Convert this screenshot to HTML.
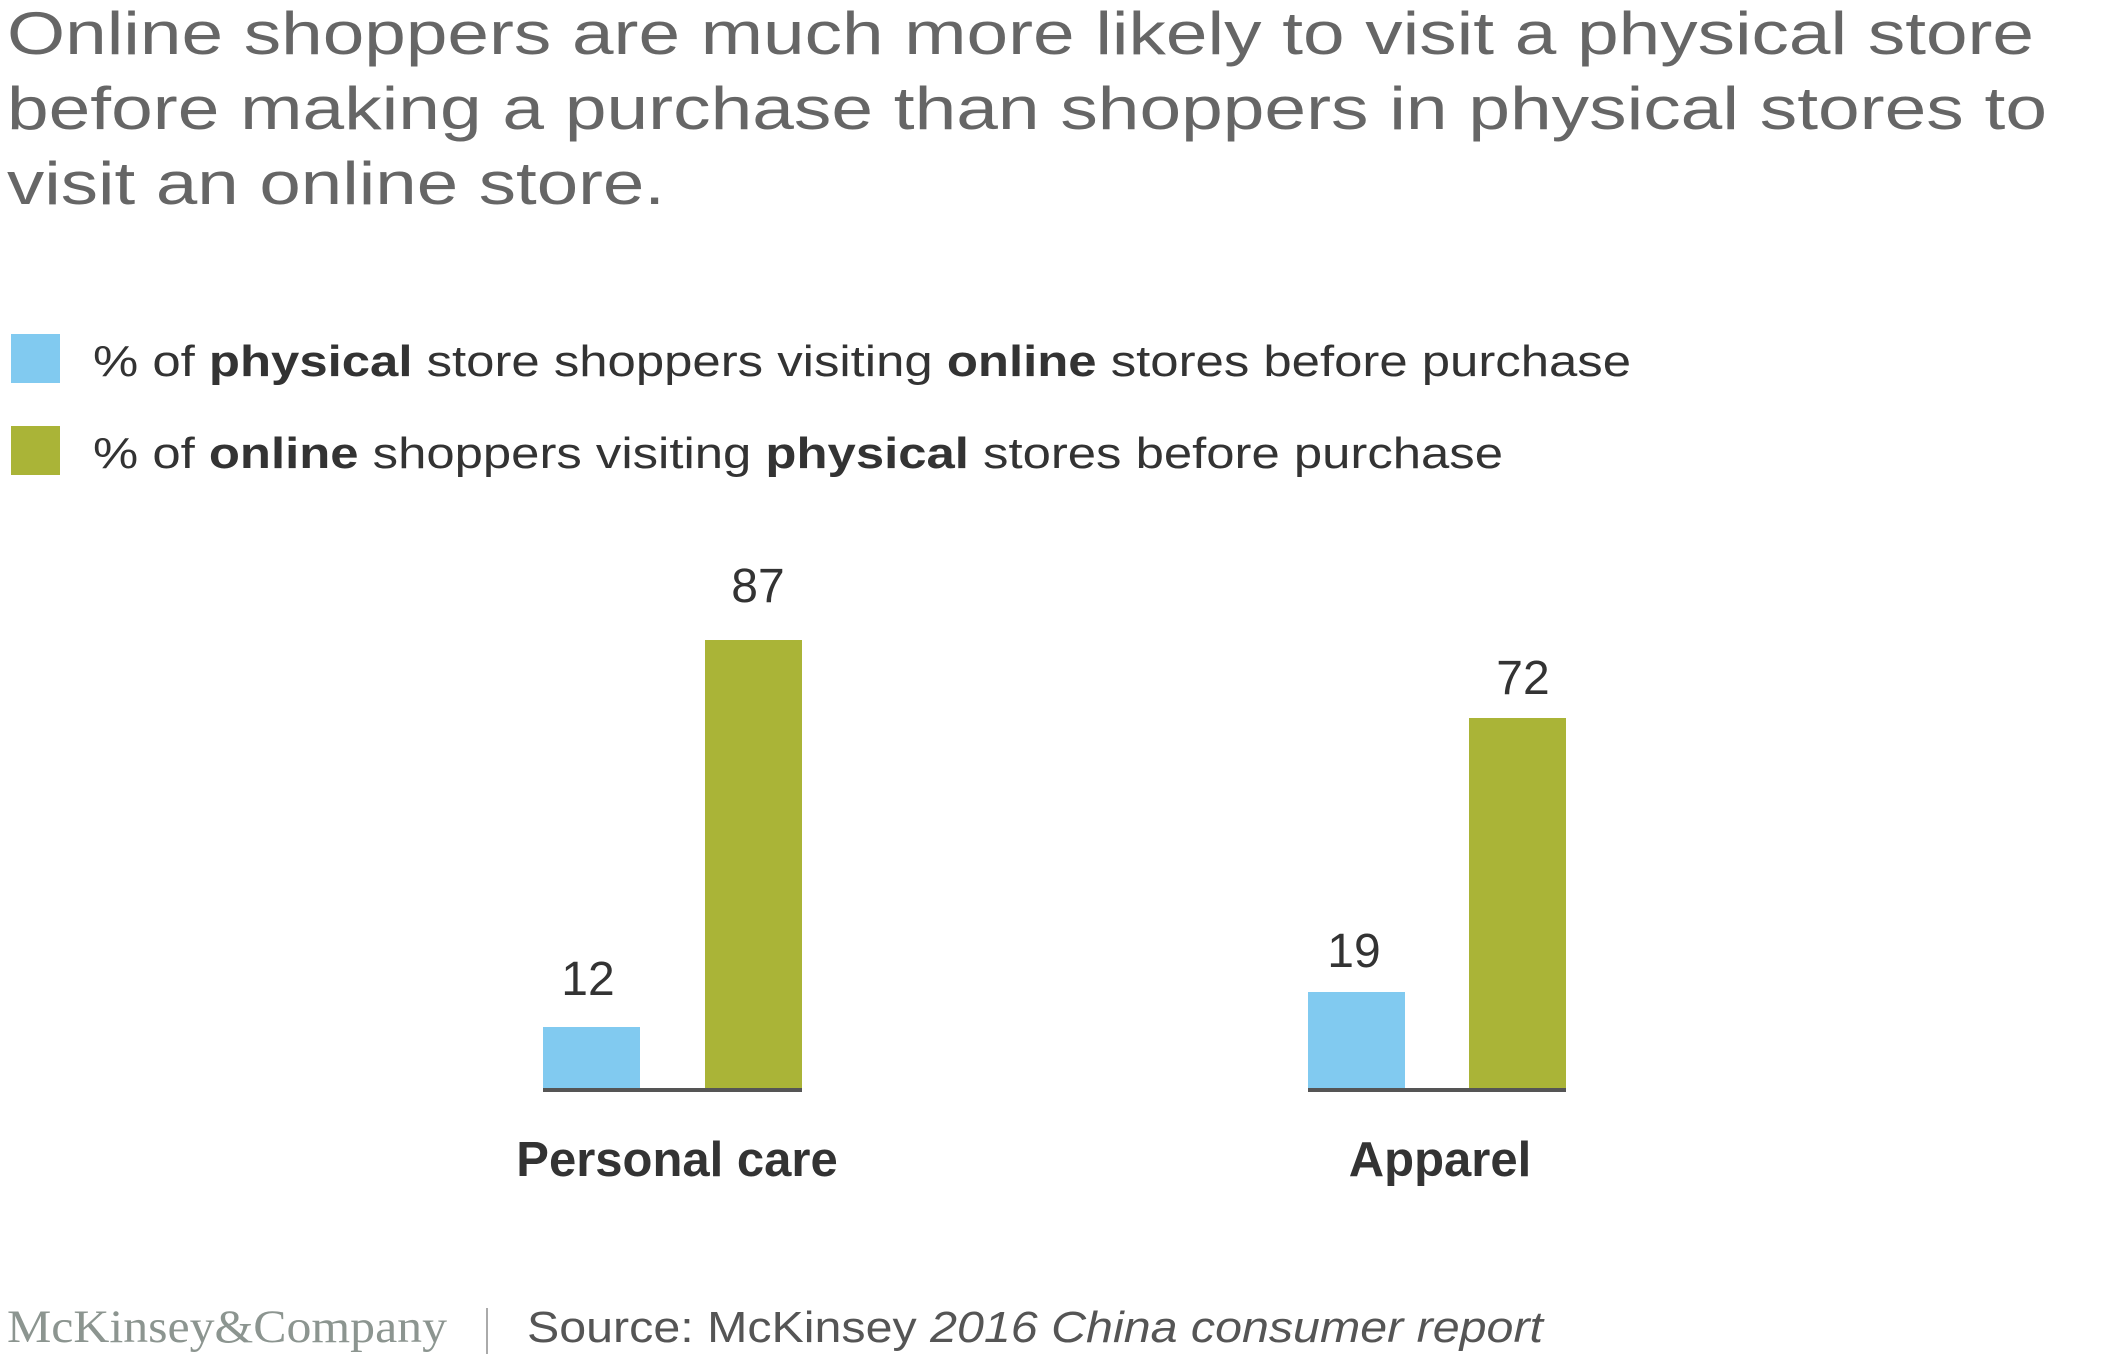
<!DOCTYPE html>
<html><head><meta charset="utf-8"><style>
html,body{margin:0;padding:0;background:#fff;width:2123px;height:1360px;overflow:hidden}
svg{display:block}
</style></head><body>
<svg width="2123" height="1360" viewBox="0 0 2123 1360" xmlns="http://www.w3.org/2000/svg" font-family="Liberation Sans, Arial, sans-serif">
<g fill="#666666" font-size="60">
<text x="7" y="54" textLength="2027" lengthAdjust="spacingAndGlyphs">Online shoppers are much more likely to visit a physical store</text>
<text x="7" y="129" textLength="2040" lengthAdjust="spacingAndGlyphs">before making a purchase than shoppers in physical stores to</text>
<text x="7" y="204" textLength="658" lengthAdjust="spacingAndGlyphs">visit an online store.</text>
</g>
<rect x="11" y="334" width="49" height="49" fill="#81CAF0"/>
<rect x="11" y="426" width="49" height="49" fill="#AAB437"/>
<g fill="#333" font-size="44">
<text x="93" y="376" textLength="1538" lengthAdjust="spacingAndGlyphs">% of <tspan font-weight="bold">physical</tspan> store shoppers visiting <tspan font-weight="bold">online</tspan> stores before purchase</text>
<text x="93" y="468" textLength="1410" lengthAdjust="spacingAndGlyphs">% of <tspan font-weight="bold">online</tspan> shoppers visiting <tspan font-weight="bold">physical</tspan> stores before purchase</text>
</g>
<rect x="543" y="1027" width="97" height="63" fill="#81CAF0"/>
<rect x="705" y="640" width="97" height="450" fill="#AAB437"/>
<rect x="1308" y="992" width="97" height="98" fill="#81CAF0"/>
<rect x="1469" y="718" width="97" height="372" fill="#AAB437"/>
<rect x="543" y="1088" width="259" height="4" fill="#555"/>
<rect x="1308" y="1088" width="258" height="4" fill="#555"/>
<g fill="#333" font-size="48" text-anchor="middle">
<text x="758" y="602">87</text>
<text x="588" y="995">12</text>
<text x="1354" y="967">19</text>
<text x="1523" y="694">72</text>
</g>
<g fill="#333" font-size="49" font-weight="bold" text-anchor="middle">
<text x="677" y="1176">Personal care</text>
<text x="1440" y="1176">Apparel</text>
</g>
<text x="7" y="1342" font-family="Liberation Serif, serif" font-size="47" fill="#8C9590" textLength="440" lengthAdjust="spacingAndGlyphs">McKinsey&amp;Company</text>
<rect x="486" y="1308" width="2" height="46" fill="#aaa"/>
<text x="527" y="1342" font-size="44" fill="#555" textLength="1016" lengthAdjust="spacingAndGlyphs">Source: McKinsey <tspan font-style="italic">2016 China consumer report</tspan></text>
</svg>
</body></html>
